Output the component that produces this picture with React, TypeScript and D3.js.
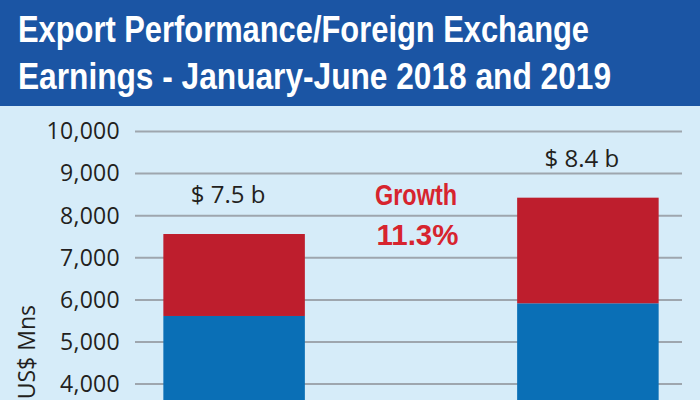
import React, { useEffect, useRef } from 'react';
import * as d3 from 'd3';

// data (US$ millions)
const years = ['2018', '2019'];
const blueValues = [5618, 5919];
const redValues = [1947, 2509];
const totalLabels = ['$ 7.5 b', '$ 8.4 b'];
const yTicks = [4000, 5000, 6000, 7000, 8000, 9000, 10000];
const titleLines = ['Export Performance/Foreign Exchange', 'Earnings - January-June 2018 and 2019'];
const growthLines = ['Growth', '11.3%'];

const W = 700;
const H = 400;

const App = () => {
  const ref = useRef<SVGSVGElement>(null);

  useEffect(() => {
    drawChart();
  }, []);

  const drawChart = () => {
    const svg = d3.select(ref.current);
    svg.selectAll('*').remove();

    // backgrounds
    svg.append('rect').attr('width', W).attr('height', H).attr('fill', '#d6ecf9');
    svg.append('rect').attr('width', W).attr('height', 106).attr('fill', '#1b55a4');

    // title, condensed bold look squeezed with textLength
    const titleLen = [571, 593];
    titleLines.forEach((t, i) => {
      svg.append('text')
        .attr('x', 18)
        .attr('y', 42 + i * 46.5)
        .attr('fill', '#ffffff')
        .attr('font-family', '"Liberation Sans Narrow", "Liberation Sans", Arial, sans-serif')
        .attr('font-weight', 'bold')
        .attr('font-size', 36)
        .attr('textLength', titleLen[i])
        .attr('lengthAdjust', 'spacingAndGlyphs')
        .text(t);
    });

    const y = d3.scaleLinear()
      .domain([0, 10000])
      .range([552.5, 131.5]);

    const x = d3.scaleBand()
      .domain(years)
      .range([140, 682])
      .paddingInner(0.6)
      .paddingOuter(0.066);

    // gridlines
    svg.append('g')
      .selectAll('line')
      .data(yTicks)
      .enter().append('line')
      .attr('x1', 135)
      .attr('x2', 682)
      .attr('y1', d => y(d))
      .attr('y2', d => y(d))
      .attr('stroke', '#9ea6ae')
      .attr('stroke-width', 2);

    // y axis labels
    const axis = svg.append('g')
      .attr('transform', 'translate(128,0)')
      .call(d3.axisLeft(y).tickValues(yTicks).tickFormat(d3.format(',')).tickSize(0).tickPadding(8));
    axis.select('.domain').remove();
    axis.selectAll('text')
      .attr('fill', '#231f20')
      .attr('font-family', '"Open Sans", sans-serif')
      .attr('font-size', 23)
      .attr('letter-spacing', 0.3);

    svg.append('text')
      .attr('transform', 'translate(35,305) rotate(-90)')
      .attr('text-anchor', 'end')
      .attr('fill', '#231f20')
      .attr('font-family', '"Open Sans", sans-serif')
      .attr('font-size', 23)
      .text('US$ Mns');

    // stacked bars
    const bars = svg.append('g');
    bars.selectAll('.blue')
      .data(blueValues)
      .enter().append('rect')
      .attr('class', 'blue')
      .attr('x', (d, i) => x(years[i]))
      .attr('width', x.bandwidth())
      .attr('y', d => y(d))
      .attr('height', d => y(0) - y(d))
      .attr('fill', '#0a6fb6');

    bars.selectAll('.red')
      .data(redValues)
      .enter().append('rect')
      .attr('class', 'red')
      .attr('x', (d, i) => x(years[i]))
      .attr('width', x.bandwidth())
      .attr('y', (d, i) => y(blueValues[i] + d))
      .attr('height', (d, i) => y(blueValues[i]) - y(blueValues[i] + d))
      .attr('fill', '#be1e2d');

    // totals above bars
    svg.selectAll('.total')
      .data(totalLabels)
      .enter().append('text')
      .attr('class', 'total')
      .attr('x', (d, i) => x(years[i]) + x.bandwidth() / 2 - 6)
      .attr('y', (d, i) => y(blueValues[i] + redValues[i]) - 31)
      .attr('text-anchor', 'middle')
      .attr('fill', '#231f20')
      .attr('font-family', '"Open Sans", sans-serif')
      .attr('font-size', 24)
      .text(d => d);

    // growth annotation
    const growthLen = [82, 82];
    growthLines.forEach((t, i) => {
      svg.append('text')
        .attr('x', 375 + i * 1.5)
        .attr('y', 205 + i * 40)
        .attr('fill', '#d7242e')
        .attr('font-family', '"Liberation Sans Narrow", "Liberation Sans", Arial, sans-serif')
        .attr('font-weight', 'bold')
        .attr('font-size', 29)
        .attr('textLength', growthLen[i])
        .attr('lengthAdjust', 'spacingAndGlyphs')
        .text(t);
    });
  };

  return (
    <div style={{ position: 'fixed', left: 0, top: 0 }}>
      <svg ref={ref} width={W} height={H} style={{ display: 'block' }} />
    </div>
  );
};

export default App;
